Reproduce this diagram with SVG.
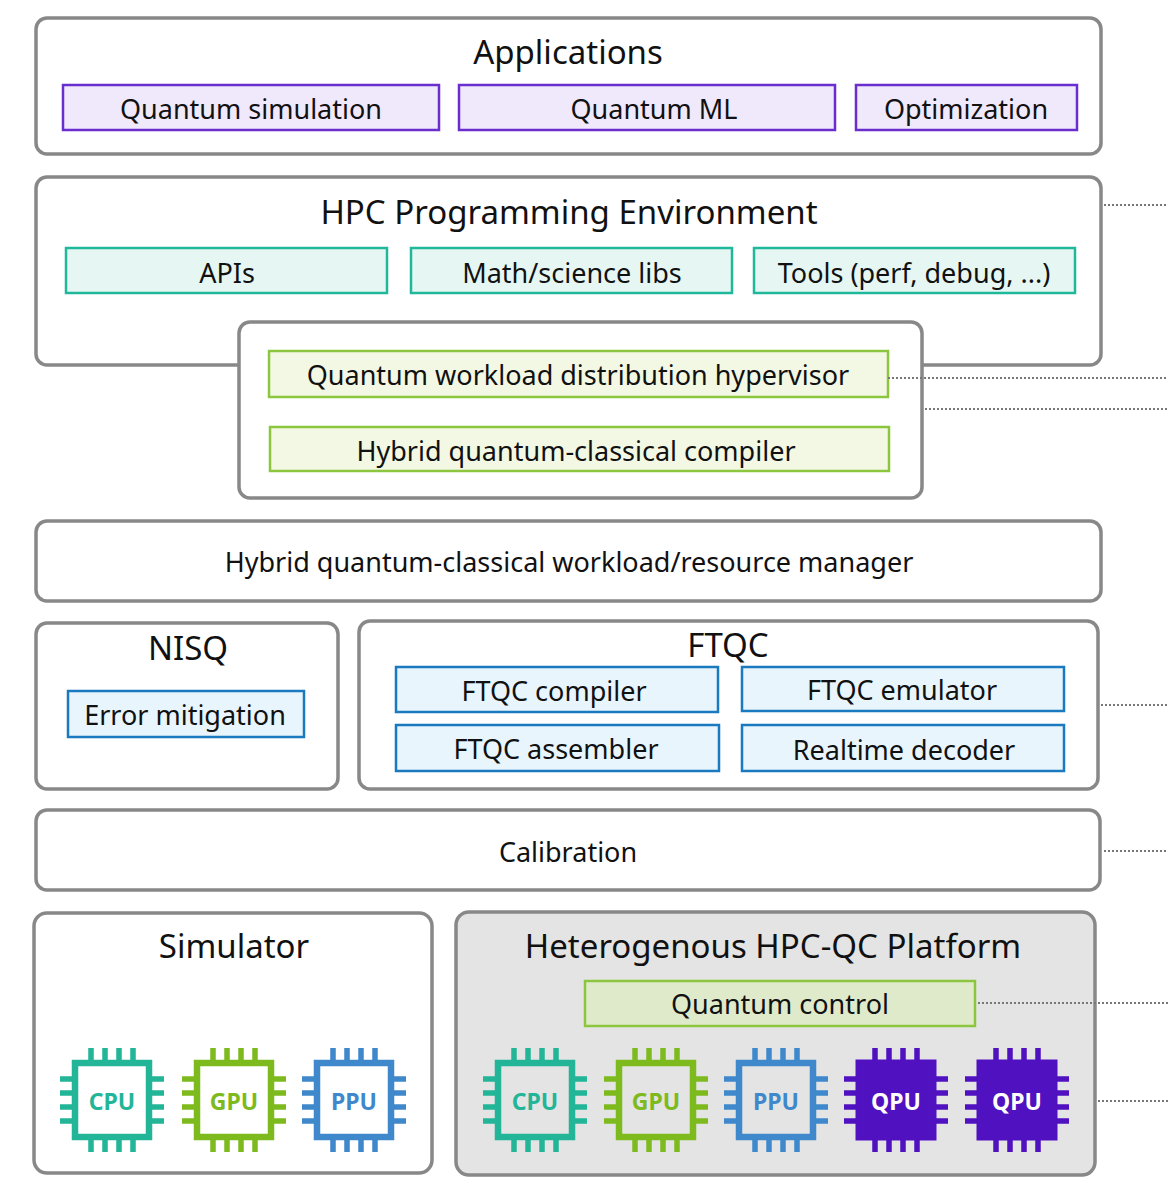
<svg xmlns="http://www.w3.org/2000/svg" width="1168" height="1200" viewBox="0 0 1168 1200">
<style>
text{font-family:"Noto Sans","Open Sans",sans-serif;fill:#111;text-anchor:middle;dominant-baseline:central}
.t{font-size:33px}.l{font-size:27px}
.c{fill:#fff;stroke:#888;stroke-width:3.5}
.p{fill:#f0e8fb;stroke:#6a2ecf;stroke-width:2.5}
.g{fill:#e6f7f3;stroke:#1fb89a;stroke-width:2.5}
.y{fill:#f3f8e4;stroke:#8cc63f;stroke-width:2.5}
.b{fill:#e8f5fd;stroke:#1a7abf;stroke-width:2.5}
.d{stroke:#777;stroke-width:2;stroke-dasharray:2 2;fill:none}
.ch{font-size:23px;font-weight:bold}
</style>
<defs>
<g id="pins">
<path d="M-21-52v17M-7-52v17M7-52v17M21-52v17M-21 35v17M-7 35v17M7 35v17M21 35v17M-52-21h17M-52-7h17M-52 7h17M-52 21h17M35-21h17M35-7h17M35 7h17M35 21h17" stroke-width="5.5" fill="none"/>
</g>
<g id="chipO"><use href="#pins"/><rect x="-37" y="-37" width="74" height="74" fill="none" stroke-width="6.5"/></g>
<g id="chipF"><use href="#pins"/><rect x="-40" y="-40" width="80" height="80"/></g>
</defs>
<g id="applications"><rect class="c" x="36" y="18" width="1065" height="136" rx="11"/><text class="t" x="568" y="51">Applications</text>
<rect class="p" x="63" y="85" width="376" height="45"/><text class="l" x="251" y="108">Quantum simulation</text>
<rect class="p" x="459" y="85" width="376" height="45"/><text class="l" x="654" y="108">Quantum ML</text>
<rect class="p" x="856" y="85" width="221" height="45"/><text class="l" x="966" y="108">Optimization</text></g>
<g id="hpc"><rect class="c" x="36" y="177" width="1065" height="188" rx="11"/><text class="t" x="569" y="211">HPC Programming Environment</text>
<rect class="g" x="66" y="248" width="321" height="45"/><text class="l" x="227" y="272">APIs</text>
<rect class="g" x="411" y="248" width="321" height="45"/><text class="l" x="572" y="272">Math/science libs</text>
<rect class="g" x="754" y="248" width="321" height="45"/><text class="l" x="914" y="272">Tools (perf, debug, ...)</text></g>
<g id="qsub"><rect class="c" x="239" y="322" width="683" height="176" rx="11"/>
<rect class="y" x="269" y="351" width="619" height="46"/><text class="l" x="578" y="374">Quantum workload distribution hypervisor</text>
<rect class="y" x="270" y="427" width="619" height="44"/><text class="l" x="576" y="450">Hybrid quantum-classical compiler</text></g>
<g id="manager"><rect class="c" x="36" y="521" width="1065" height="80" rx="11"/><text class="l" x="569" y="561">Hybrid quantum-classical workload/resource manager</text></g>
<g id="nisq"><rect class="c" x="36" y="623" width="302" height="166" rx="11"/><text class="t" x="188" y="647">NISQ</text>
<rect class="b" x="68" y="691" width="236" height="46"/><text class="l" x="185" y="714">Error mitigation</text></g>
<g id="ftqc"><rect class="c" x="359" y="621" width="739" height="168" rx="11"/><text class="t" x="728" y="644">FTQC</text>
<rect class="b" x="396" y="667" width="322" height="45"/><text class="l" x="554" y="690">FTQC compiler</text>
<rect class="b" x="742" y="667" width="322" height="44"/><text class="l" x="902" y="689">FTQC emulator</text>
<rect class="b" x="396" y="725" width="323" height="46"/><text class="l" x="556" y="748">FTQC assembler</text>
<rect class="b" x="742" y="725" width="322" height="46"/><text class="l" x="904" y="749">Realtime decoder</text></g>
<g id="calibration"><rect class="c" x="36" y="810" width="1064" height="80" rx="11"/><text class="l" x="568" y="851">Calibration</text></g>
<g id="simulator"><rect class="c" x="34" y="913" width="398" height="260" rx="13"/><text class="t" x="234" y="945">Simulator</text>
<use href="#chipO" x="112" y="1100" stroke="#23b597"/><text class="ch" x="112" y="1101" style="fill:#23b597">CPU</text>
<use href="#chipO" x="234" y="1100" stroke="#7dba1e"/><text class="ch" x="234" y="1101" style="fill:#7dba1e">GPU</text>
<use href="#chipO" x="354" y="1100" stroke="#3f88cc"/><text class="ch" x="354" y="1101" style="fill:#3f88cc">PPU</text></g>
<g id="platform"><rect x="456" y="912" width="639" height="263" rx="13" fill="#e4e4e4" stroke="#888" stroke-width="3.5"/><text class="t" x="773" y="945">Heterogenous HPC-QC Platform</text>
<rect x="585" y="981" width="390" height="45" fill="#dfeacb" stroke="#8cc63f" stroke-width="2.5"/><text class="l" x="780" y="1003">Quantum control</text>
<use href="#chipO" x="535" y="1100" stroke="#23b597"/><text class="ch" x="535" y="1101" style="fill:#23b597">CPU</text>
<use href="#chipO" x="656" y="1100" stroke="#7dba1e"/><text class="ch" x="656" y="1101" style="fill:#7dba1e">GPU</text>
<use href="#chipO" x="776" y="1100" stroke="#3f88cc"/><text class="ch" x="776" y="1101" style="fill:#3f88cc">PPU</text>
<use href="#chipF" x="896" y="1100" stroke="#5011c0" fill="#5011c0"/><text class="ch" x="896" y="1101" style="fill:#fff">QPU</text>
<use href="#chipF" x="1017" y="1100" stroke="#5011c0" fill="#5011c0"/><text class="ch" x="1017" y="1101" style="fill:#fff">QPU</text></g>
<g id="connectors">
<path class="d" d="M1104 205H1168M888 378H1168M925 409H1168M1101 705H1168M1104 851H1168M978 1003H1168M1098 1101H1168"/>
</g>
</svg>
